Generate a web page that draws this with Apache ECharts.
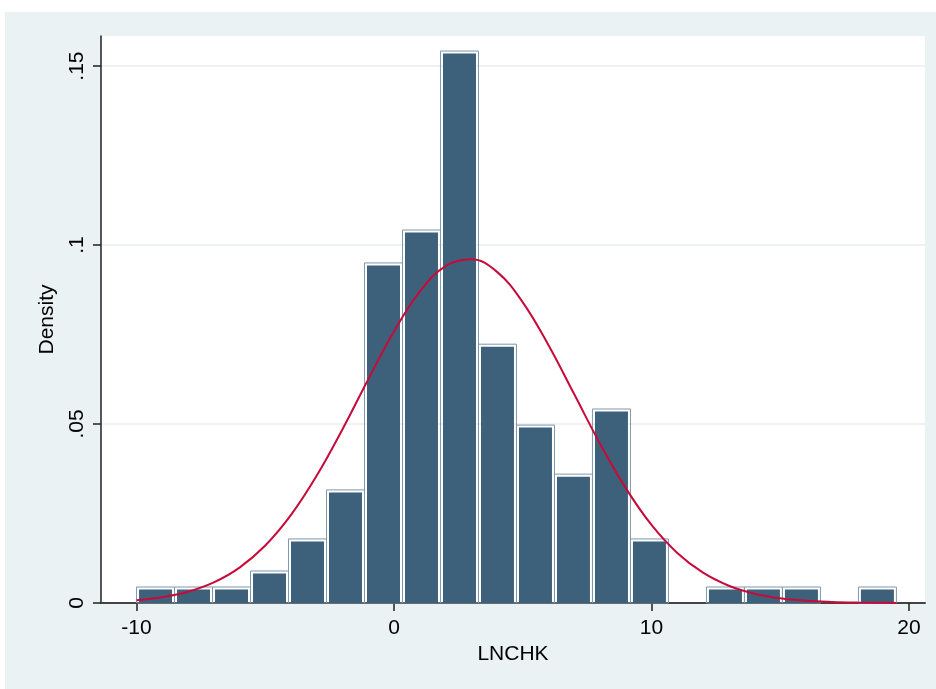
<!DOCTYPE html>
<html>
<head>
<meta charset="utf-8">
<script src="https://cdn.jsdelivr.net/npm/echarts@6/dist/echarts.min.js"></script>
<style>
html,body{margin:0;padding:0;background:#fff;}
#bg{position:absolute;left:5px;top:12px;width:931px;height:677px;background:#EAF2F3;}
#chart{position:absolute;left:0;top:0;width:936px;height:689px;}
</style>
</head>
<body>
<div id="bg"></div>
<div id="chart"></div>
<script>
// Histogram bins (left edges) and density heights
const binStart = -10;
const binWidth = 1.4755;
const densities = [0.00447, 0.00447, 0.00447, 0.00894, 0.0179, 0.0316, 0.0950, 0.1042, 0.1542, 0.0723, 0.0497, 0.0360, 0.0542, 0.0179, 0, 0.00447, 0.00447, 0.00447, 0, 0.00447];
// Normal density overlay
const curveX = [-10, -9, -8, -7, -6, -5, -4, -3, -2, -1, 0, 1, 2, 3, 4, 5, 6, 7, 8, 9, 10, 11, 12, 13, 14, 15, 16, 17, 18, 19, 19.51];
const curveY = [0.0008, 0.00163, 0.00315, 0.00575, 0.00989, 0.01606, 0.02461, 0.03559, 0.04855, 0.0625, 0.0759, 0.0870, 0.0941, 0.0960, 0.0925, 0.0840, 0.0720, 0.0583, 0.0445, 0.0321, 0.0218, 0.01397, 0.00846, 0.00483, 0.0026, 0.00132, 0.00063, 0.00029, 0.00012, 0.00005, 0.00003];
const xTicks = [-10, 0, 10, 20];
const yTicks = [0, 0.05, 0.1, 0.15];

const barData = densities.map((d, i) => [binStart + i * binWidth, binStart + (i + 1) * binWidth, d]);
const lineData = curveX.map((x, i) => [x, curveY[i]]);

const FONT = 'Liberation Sans, Arial, Helvetica, sans-serif';
const chart = echarts.init(document.getElementById('chart'), null, {renderer: 'canvas'});
chart.setOption({
  backgroundColor: 'transparent',
  animation: false,
  grid: {left: 101, right: 11, top: 36, bottom: 86, show: true, backgroundColor: '#ffffff', borderWidth: 0},
  xAxis: {
    type: 'value', min: -11.38, max: 20.62,
    name: 'LNCHK', nameLocation: 'middle', nameGap: 40,
    nameTextStyle: {color: '#000', fontSize: 21, fontFamily: FONT},
    axisLine: {show: true, onZero: false, lineStyle: {color: '#444', width: 2}},
    axisTick: {show: true, customValues: xTicks, length: 8, lineStyle: {color: '#222', width: 1.5}},
    axisLabel: {customValues: xTicks, margin: 15, color: '#000', fontSize: 21, fontFamily: FONT,
      formatter: v => String(v)},
    splitLine: {show: false}
  },
  yAxis: {
    type: 'value', min: 0, max: 0.1584,
    name: 'Density', nameLocation: 'middle', nameGap: 43,
    nameTextStyle: {color: '#000', fontSize: 21, fontFamily: FONT},
    axisLine: {show: true, onZero: false, lineStyle: {color: '#222', width: 1.5}},
    axisTick: {show: true, customValues: yTicks, length: 8, lineStyle: {color: '#222', width: 1.5}},
    axisLabel: {customValues: yTicks, rotate: 90, margin: 13, color: '#000', fontSize: 21, fontFamily: FONT,
      formatter: v => v === 0 ? '0' : String(+v.toFixed(4)).replace(/^0\./, '.')},
    splitLine: {show: true, lineStyle: {color: '#E8EEF1', width: 1.5}}
  },
  series: [
    {
      type: 'custom',
      data: barData,
      encode: {x: [0, 1], y: 2},
      renderItem: function (params, api) {
        const h = api.value(2);
        if (!h) return null;
        const p0 = api.coord([api.value(0), h]);
        const p1 = api.coord([api.value(1), 0]);
        const x = p0[0], y = p0[1], w = p1[0] - p0[0], ht = p1[1] - p0[1];
        const ins = 2.5;
        return {
          type: 'group',
          children: [
            {type: 'rect', shape: {x: x, y: y, width: w, height: ht},
              style: {fill: 'none', stroke: '#7F98AB', lineWidth: 1}},
            {type: 'rect', shape: {x: x + ins, y: y + ins, width: w - 2 * ins, height: ht - ins},
              style: {fill: '#3E617B'}}
          ]
        };
      },
      z: 2
    },
    {
      type: 'line',
      data: lineData,
      smooth: 0.4,
      showSymbol: false,
      lineStyle: {color: '#C70A3A', width: 2},
      z: 3
    }
  ]
});
</script>
</body>
</html>
